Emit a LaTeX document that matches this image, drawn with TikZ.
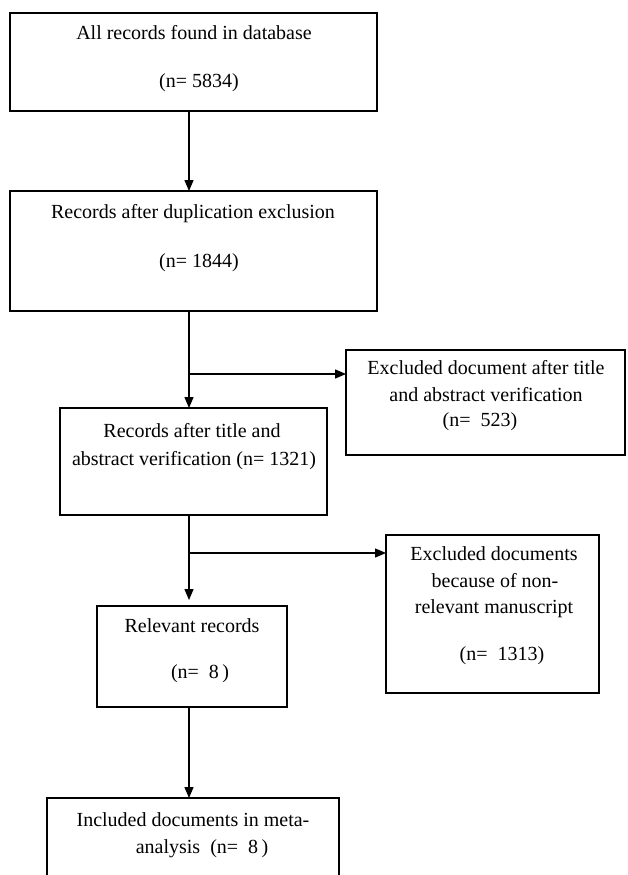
\documentclass[tikz,border=0pt]{standalone}
\usepackage{fontspec}
\setmainfont{Liberation Serif}
\usetikzlibrary{arrows.meta}
\begin{document}
\begin{tikzpicture}[x=1pt,y=-1pt,
  box/.style={draw,line width=1.4pt,inner sep=0pt,outer sep=0pt},
  txt/.style={font=\fontsize{20}{24}\selectfont,inner sep=0pt,text height=14pt,text depth=4pt},
  arr/.style={-{Triangle[length=11pt,width=9pt]},line width=1.3pt},
  conn/.style={line width=1.3pt}]
\path[use as bounding box,clip] (0,0) rectangle (627,875);
\fill[white] (0,0) rectangle (627,875);
% boxes
\node[box,minimum width=367pt,minimum height=98pt]  (b1) at (193.5,62) {};
\node[box,minimum width=367pt,minimum height=120pt] (b2) at (193.5,251) {};
\node[box,minimum width=279pt,minimum height=105pt] (e1) at (485.5,402.5) {};
\node[box,minimum width=267pt,minimum height=107pt] (b3) at (193.5,461.5) {};
\node[box,minimum width=213pt,minimum height=158pt] (e2) at (492.5,614) {};
\node[box,minimum width=190pt,minimum height=101pt] (b4) at (192,656.5) {};
\node[box,minimum width=292pt,minimum height=110pt] (b5) at (193,853) {};
% texts
\node[txt] (t1a) at (194,35) {All records found in database};
\node[txt] (t1b) at (199,82) {(n= 5834)};
\node[txt] (t2a) at (193,213) {Records after duplication exclusion};
\node[txt] (t2b) at (199,262) {(n= 1844)};
\node[txt] (t3a) at (486,369) {Excluded document after title};
\node[txt] (t3b) at (486,396) {and abstract verification};
\node[txt] (t3c) at (480,421) {(n=\ \ 523)};
\node[txt] (t4a) at (192,432) {Records after title and};
\node[txt] (t4b) at (194,460) {abstract verification (n= 1321)};
\node[txt] (t5a) at (494,555) {Excluded documents};
\node[txt] (t5b) at (495,582) {because of non-};
\node[txt] (t5c) at (494,608) {relevant manuscript};
\node[txt] (t5d) at (502,655) {(n=\ \ 1313)};
\node[txt] (t6a) at (192,627) {Relevant records};
\node[txt] (t6b) at (200,673) {(n=\ \ 8\,)};
\node[txt] (t7a) at (193,821) {Included documents in meta-};
\node[txt] (t7b) at (202,848) {analysis\ \ (n=\ \ 8\,)};
% connectors
\coordinate (sp) at (189,0);
\coordinate (j1) at (189,374);
\coordinate (j2) at (189,553);
\draw[arr] (b1.south -| sp) -- (b2.north -| sp);
\draw[arr] (b2.south -| sp) -- (b3.north -| sp);
\draw[arr] (j1) -- (j1 -| e1.west);
\draw[arr,shorten >=6pt] (b3.south -| sp) -- (b4.north -| sp);
\draw[arr] (j2) -- (j2 -| e2.west);
\draw[arr] (b4.south -| sp) -- (b5.north -| sp);
\end{tikzpicture}
\end{document}
